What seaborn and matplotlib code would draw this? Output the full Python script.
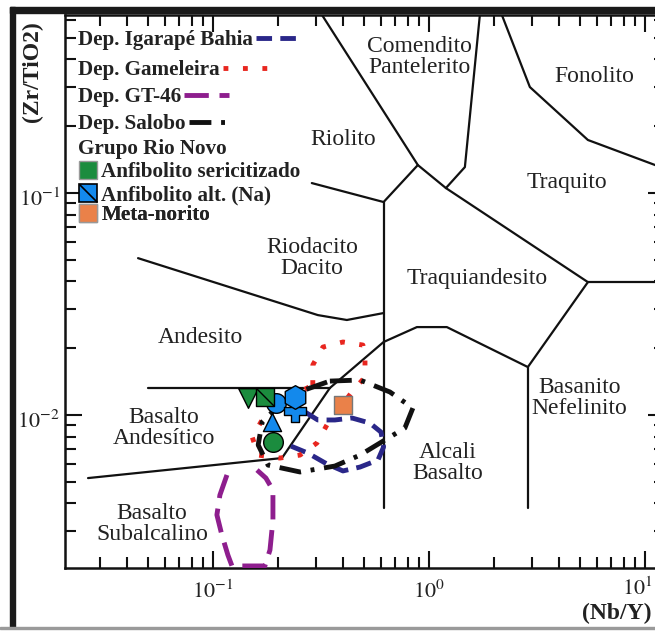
import matplotlib
matplotlib.use("Agg")
import numpy as np
import matplotlib.pyplot as plt
import seaborn as sns
from matplotlib.lines import Line2D
from matplotlib.patches import Rectangle
from matplotlib.path import Path
from matplotlib.ticker import LogLocator, FuncFormatter, NullFormatter

# limites dos campos do diagrama (Nb/Y, Zr/TiO2)
riolito_x = [0.320, 0.889, 1.199, 5.45]
riolito_y = [0.634, 0.1337, 0.1053, 0.0397]
comendito_x = [1.722, 1.468, 1.199]
comendito_y = [0.634, 0.1309, 0.1053]
fonolito_x = [2.178, 2.935, 5.45, 12.4]
fonolito_y = [0.634, 0.3003, 0.1734, 0.1287]
traquito_x = [5.45, 12.4]
traquito_y = [0.0397, 0.0397]
riodacito_x = [0.287, 0.617, 0.889]
riodacito_y = [0.1109, 0.0911, 0.1337]
vertical_x = [0.617, 0.617]
vertical_y = [0.0911, 0.00381]
andesito_x = [0.045, 0.306, 0.417, 0.617]
andesito_y = [0.0509, 0.0282, 0.0268, 0.0288]
bas_and_x = [0.050, 0.348]
bas_and_y = [0.01324, 0.01324]
subalc_x = [0.0264, 0.2087, 0.348, 0.617, 0.880, 1.211, 2.873, 5.45]
subalc_y = [0.0052, 0.0064, 0.01324, 0.02133, 0.0249, 0.0249, 0.01645, 0.0397]
basanito_x = [2.873, 2.873]
basanito_y = [0.01645, 0.00381]

# campos dos depositos
igarape_x = [0.267, 0.306, 0.367, 0.440, 0.533, 0.600, 0.617, 0.581, 0.480, 0.400, 0.337, 0.275, 0.218]
igarape_y = [0.01032, 0.0095, 0.0095, 0.0097, 0.0092, 0.00838, 0.00718, 0.00627, 0.00583, 0.0056, 0.00602, 0.00674, 0.0074]
gameleira_x = [0.290, 0.290, 0.323, 0.400, 0.495, 0.506, 0.506, 0.440, 0.387, 0.337, 0.303, 0.253, 0.204, 0.162, 0.152, 0.169, 0.215, 0.290]
gameleira_y = [0.01365, 0.0168, 0.02024, 0.02133, 0.02067, 0.01825, 0.01483, 0.0127, 0.01075, 0.00902, 0.00748, 0.0066, 0.0064, 0.0066, 0.00796, 0.0095, 0.01168, 0.01365]
gt46_x = [0.1161, 0.1077, 0.1043, 0.110, 0.1173, 0.1225, 0.1483, 0.174, 0.1837, 0.1896, 0.1896, 0.1759, 0.160]
gt46_y = [0.00537, 0.00436, 0.00355, 0.00288, 0.00234, 0.00209, 0.00209, 0.00209, 0.002466, 0.003365, 0.00459, 0.0052, 0.00565]
salobo_x = [0.348, 0.480, 0.660, 0.843, 0.774, 0.626, 0.480, 0.367, 0.253, 0.180, 0.162, 0.169, 0.227, 0.348]
salobo_y = [0.01422, 0.01438, 0.0127, 0.01075, 0.00874, 0.00772, 0.0066, 0.00589, 0.00554, 0.00595, 0.00733, 0.0093, 0.0123, 0.01422]

# amostras do Grupo Rio Novo
alt_na_x = [0.1957, 0.2397, 0.1875, 0.2397]
alt_na_y = [0.01132, 0.01042, 0.0093, 0.01205]
alt_na_mk = ['o', 'P', '^', 'h']
seric_x = [0.1452, 0.174, 0.1896]
seric_y = [0.01193, 0.01205, 0.00756]
seric_mk = ['v', 's', 'o']
norito_x = [0.400]
norito_y = [0.0111]

verde = '#1b8c3e'
azul = '#1389ec'
laranja = '#ea8149'
c_igarape = '#2a2789'
c_gameleira = '#e8261f'
c_gt46 = '#8e1e8e'
texto = '#222222'

sns.set_theme(style="white")
plt.rcParams['font.family'] = ['Liberation Serif', 'DejaVu Serif']
plt.rcParams['mathtext.fontset'] = 'stix'

fig = plt.figure(figsize=(6.55, 6.31), dpi=100)
ax = fig.add_axes([65/655, 63/631, 600/655, 553/631])
ax.set_xscale('log')
ax.set_yscale('log')
ax.set_xlim(0.02065, 12.4)
ax.set_ylim(0.002046, 0.634)

limites = [(riolito_x, riolito_y), (comendito_x, comendito_y), (fonolito_x, fonolito_y),
           (traquito_x, traquito_y), (riodacito_x, riodacito_y), (vertical_x, vertical_y),
           (andesito_x, andesito_y), (bas_and_x, bas_and_y), (subalc_x, subalc_y),
           (basanito_x, basanito_y)]
for lx, ly in limites:
    sns.lineplot(x=lx, y=ly, sort=False, estimator=None, color='#111111', lw=1.6, ax=ax)

estilos = {
    'igarape': (igarape_x, igarape_y, c_igarape, (0, (3.2, 1.7))),
    'gameleira': (gameleira_x, gameleira_y, c_gameleira, (0, (1, 3))),
    'gt46': (gt46_x, gt46_y, c_gt46, (0, (5, 2.2))),
    'salobo': (salobo_x, salobo_y, '#111111', (0, (4.5, 2, 0.8, 2))),
}
for k, (dx, dy, cor, ls) in estilos.items():
    sns.lineplot(x=dx, y=dy, sort=False, estimator=None, color=cor, lw=3.5,
                 linestyle=ls, ax=ax, zorder=3)

# pontos
for x, y, m in zip(alt_na_x, alt_na_y, alt_na_mk):
    tam = {'o': 200, 'P': 230, '^': 170, 'h': 290}[m]
    sns.scatterplot(x=[x], y=[y], marker=m, s=tam, color=azul, edgecolor='black',
                    linewidth=1, ax=ax, zorder=5)
for x, y, m in zip(seric_x, seric_y, seric_mk):
    tam = {'v': 200, 's': 150, 'o': 200}[m]
    sns.scatterplot(x=[x], y=[y], marker=m, s=tam, color=verde, edgecolor='black',
                    linewidth=1, ax=ax, zorder=6)
diag = Path([(-1, 1), (1, -1)])
ax.scatter(seric_x[1:2], seric_y[1:2], marker=diag, s=150, color='black', linewidth=1, zorder=7)
sns.scatterplot(x=norito_x, y=norito_y, marker='s', s=150, color=laranja, edgecolor='#777777',
                linewidth=1, ax=ax, zorder=6)

# eixos
ax.xaxis.set_major_locator(LogLocator(base=10))
ax.yaxis.set_major_locator(LogLocator(base=10))
ax.xaxis.set_minor_locator(LogLocator(base=10, subs=np.arange(2, 10)))
ax.yaxis.set_minor_locator(LogLocator(base=10, subs=np.arange(2, 10)))
# o rotulo 10^1 fica encostado na borda: desenhado a parte
fmt_x = FuncFormatter(lambda v, p: '' if round(np.log10(v)) >= 1 else r'$10^{%d}$' % round(np.log10(v)))
ax.xaxis.set_major_formatter(fmt_x)
ax.yaxis.set_major_formatter(NullFormatter())
ax.xaxis.set_minor_formatter(NullFormatter())
ax.yaxis.set_minor_formatter(NullFormatter())
ax.tick_params(which='both', direction='in', bottom=True, top=True, left=True, right=True,
               color='#111111', width=1.5)
ax.tick_params(which='major', length=12.5, labelsize=16, labelcolor=texto)
ax.tick_params(which='minor', length=8)
ax.tick_params(axis='x', which='major', pad=9)
for s in ax.spines.values():
    s.set_color('#111111')
    s.set_linewidth(1.8)

for v in [0.01, 0.1]:
    ax.annotate(r'$10^{%d}$' % round(np.log10(v)), xy=(0, v), xycoords=('axes fraction', 'data'),
                xytext=(-3.5, -5), textcoords='offset points', ha='right', va='center',
                fontsize=16, color=texto)
ax.annotate(r'$10^{1}$', xy=(10, 0), xycoords=('data', 'axes fraction'),
            xytext=(6, -6.5), textcoords='offset points', ha='right', va='top',
            fontsize=16, color=texto)

ax.set_ylabel('(Zr/TiO2)', fontweight='bold', fontsize=17, color=texto)
ax.yaxis.set_label_coords(-0.037, 0.897)
ax.set_xlabel('(Nb/Y)', fontweight='bold', fontsize=17, color=texto)
ax.xaxis.set_label_coords(0.92, -0.063)

# nomes dos campos
campos = [
    ('Comendito\nPantelerito', 0.590, 0.924), ('Fonolito', 0.882, 0.888),
    ('Riolito', 0.463, 0.774), ('Traquito', 0.837, 0.698),
    ('Riodacito\nDacito', 0.412, 0.561), ('Traquiandesito', 0.687, 0.523),
    ('Andesito', 0.225, 0.416), ('Basalto\nAndesítico', 0.165, 0.253),
    ('Basalto\nSubalcalino', 0.145, 0.080), ('Alcali\nBasalto', 0.638, 0.190),
    ('Basanito\nNefelinito', 0.857, 0.307),
]
for txt, x, y in campos:
    ax.text(x, y, txt, transform=ax.transAxes, ha='center', va='center', fontsize=17,
            color=texto, linespacing=1.0)

# legenda
x0 = 0.0217
dep = [
    ('Dep. Igarapé Bahia', c_igarape, (0, (3.2, 1.7)), 0.954),
    ('Dep. Gameleira', c_gameleira, (0, (1, 3)), 0.900),
    ('Dep. GT-46', c_gt46, (0, (5, 2.2)), 0.851),
    ('Dep. Salobo', '#111111', (0, (4.5, 2, 0.8, 2)), 0.802),
]
for nome, cor, ls, y in dep:
    h = Line2D([], [], color=cor, lw=3.5, linestyle=ls)
    leg = ax.legend([h], [nome], loc='center left', bbox_to_anchor=(x0, y), frameon=False,
                    markerfirst=False, handlelength=2.1, handletextpad=0.15, borderpad=0,
                    borderaxespad=0, prop={'weight': 'bold', 'size': 15.2})
    for t in leg.get_texts():
        t.set_color(texto)
    ax.add_artist(leg)

ax.text(x0, 0.757, 'Grupo Rio Novo', transform=ax.transAxes, va='center',
        fontweight='bold', fontsize=15.2, color=texto)

rio = [
    ('Anfibolito sericitizado', Line2D([], [], marker='s', ms=13, mfc=verde, mec='#999999', ls='none'), 0.716),
    ('Anfibolito alt. (Na)', (Line2D([], [], marker='s', ms=13, mfc=azul, mec='black', mew=1.2, ls='none'),
                              Line2D([], [], marker=diag, ms=13, mfc='none', mec='black', mew=1.2, ls='none')), 0.674),
    ('Meta-norito', Line2D([], [], marker='s', ms=13, mfc=laranja, mec='#999999', ls='none'), 0.638),
]
for nome, h, y in rio:
    leg = ax.legend([h], [nome], loc='center left', bbox_to_anchor=(x0, y), frameon=False,
                    handlelength=0.9, handletextpad=0.2, borderpad=0, borderaxespad=0,
                    prop={'weight': 'bold', 'size': 15.2})
    for t in leg.get_texts():
        t.set_color(texto)
    ax.add_artist(leg)

# moldura da figura
fig.add_artist(Rectangle((10/655, 3/631), 5/655, 621/631, transform=fig.transFigure,
                         color='#1a1a1a', zorder=10))
fig.add_artist(Rectangle((10/655, 618/631), 645/655, 6/631, transform=fig.transFigure,
                         color='#1a1a1a', zorder=10))
fig.add_artist(Rectangle((0, 2/631), 1, 2/631, transform=fig.transFigure,
                         color='#9a9a9a', zorder=10))

fig.savefig('out.png', dpi=100)
